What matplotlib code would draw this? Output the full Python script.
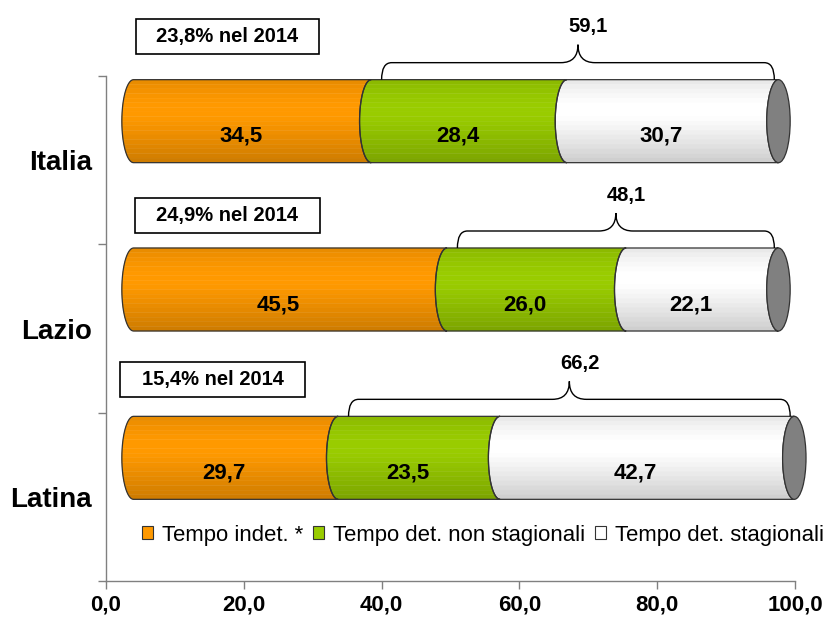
import numpy as np
import matplotlib
matplotlib.use("Agg")
import matplotlib.pyplot as plt
from matplotlib.patches import Polygon, Ellipse, Rectangle, Patch, PathPatch
from matplotlib.path import Path
from matplotlib.colors import to_rgb

plt.rcParams['font.family'] = ['Liberation Sans', 'DejaVu Sans']

# ---------------- data ----------------
categories = ["Italia", "Lazio", "Latina"]
tempo_indet = [34.5, 45.5, 29.7]
det_non_stag = [28.4, 26.0, 23.5]
det_stag = [30.7, 22.1, 42.7]
pct_2014 = [23.8, 24.9, 15.4]
series_labels = ["Tempo indet. *", "Tempo det. non stagionali", "Tempo det. stagionali"]
xticks = [0, 20, 40, 60, 80, 100]

# ---------------- style / layout ----------------
colors = ["#FF9900", "#99CC00", "#FFFFFF"]
W, H = 838, 619
ax_left_px, ax_right_px, ax_top_px, ax_bot_px = 106, 795, 76, 581
px_x = (ax_right_px - ax_left_px) / 100.0      # px per x unit
px_y = (ax_bot_px - ax_top_px) / 3.0           # px per y unit
depth_x = 4.0                 # 3D projection shift (x units)
depth_y = 39.0 / px_y         # 3D projection shift (y units)
ry = 41.5 / px_y              # bar half height
rx = 1.7                      # ellipse half width (x units)
box_x = [(4.35, 30.9), (4.2, 31.05), (2.05, 28.9)]
box_gap_px = [26, 15, 19]
box_h_px = 35
nbands = 18
band_prof = np.interp((np.arange(nbands) + 0.5) / nbands,
                      [0, .06, .18, .3, .45, .6, .8, 1.0],
                      [.90, .93, .97, 1.0, 1.0, .95, .88, .80])

fig = plt.figure(figsize=(W / 100, H / 100), dpi=100)
ax = fig.add_axes([ax_left_px / W, 1 - ax_bot_px / H,
                   (ax_right_px - ax_left_px) / W, (ax_bot_px - ax_top_px) / H])
ax.set_xlim(0, 100)
ax.set_ylim(0, 3)
ax.set_autoscale_on(False)


def fmt(v):
    return f"{v:.1f}".replace(".", ",")


def half_ellipse(cx, cy, start, stop, n=40):
    th = np.linspace(np.radians(start), np.radians(stop), n)
    return np.column_stack([cx + rx * np.cos(th), cy + ry * np.sin(th)])


def left_curve_x(c, yc, y):
    u = np.clip((y - yc) / ry, -1, 1)
    return c - rx * np.sqrt(1 - u ** 2)


for i, cat in enumerate(categories):
    yc = (2.5 - i) + depth_y
    vals = [tempo_indet[i], det_non_stag[i], det_stag[i]]
    starts = np.concatenate([[0], np.cumsum(vals)[:-1]]) + depth_x
    ends = np.cumsum(vals) + depth_x
    for j, (a, b) in enumerate(zip(starts, ends)):
        base = np.array(to_rgb(colors[j]))
        # shaded horizontal bands
        for k in range(nbands):
            yhi = yc + ry - 2 * ry * k / nbands
            ylo = yc + ry - 2 * ry * (k + 1) / nbands
            ys = np.linspace(yhi, ylo, 8)
            xr = left_curve_x(b, yc, ys)
            xl = left_curve_x(a, yc, ys[::-1])
            verts = np.vstack([np.column_stack([xr, ys]), np.column_stack([xl, ys[::-1]])])
            col = np.clip(base * band_prof[k], 0, 1)
            ax.add_patch(Polygon(verts, closed=True, facecolor=col, edgecolor=col, lw=0.3,
                                 zorder=3, clip_on=False))
        right = half_ellipse(b, yc, 90, 270)
        left = half_ellipse(a, yc, 90, 270)[::-1]
        verts = np.vstack([right, left])
        ax.add_patch(Polygon(verts, closed=True, facecolor="none",
                             edgecolor="#333333", lw=0.9, zorder=4, clip_on=False))
        ax.text((a + b) / 2 - rx, yc - 0.09, fmt(vals[j]), ha="center", va="center",
                fontsize=16, fontweight="bold", color="black", zorder=6)
    # right cap
    ax.add_patch(Ellipse((ends[-1], yc), 2 * rx, 2 * ry, facecolor="#808080",
                         edgecolor="#333333", lw=0.9, zorder=5, clip_on=False))

    # brace over the two fixed-term segments
    top = yc + ry
    L = starts[1] + 1.5
    R = ends[-1] - 0.6
    C = (L + R) / 2
    yb = top
    yh = top + 17 / px_y
    yt = top + 35 / px_y
    rc = 10 / px_x
    rt = 17 / px_x
    bverts = [(L, yb), (L, yh), (L + rc, yh), (C - rt, yh), (C, yh), (C, yt),
              (C, yh), (C + rt, yh), (R - rc, yh), (R, yh), (R, yb)]
    codes = [Path.MOVETO, Path.CURVE3, Path.CURVE3, Path.LINETO, Path.CURVE3, Path.CURVE3,
             Path.CURVE3, Path.CURVE3, Path.LINETO, Path.CURVE3, Path.CURVE3]
    ax.add_patch(PathPatch(Path(bverts, codes), facecolor="none", edgecolor="black",
                           lw=1.0, zorder=7, clip_on=False))
    ax.text(C + 1.5, top + 53 / px_y, fmt(det_non_stag[i] + det_stag[i]), ha="center",
            va="center", fontsize=14.5, fontweight="bold", zorder=7, clip_on=False)

    # 2014 box
    x0, x1 = box_x[i]
    yb0 = top + box_gap_px[i] / px_y
    hb = box_h_px / px_y
    ax.add_patch(Rectangle((x0, yb0), x1 - x0, hb, facecolor="white", edgecolor="black",
                           lw=1.2, zorder=7, clip_on=False))
    ax.text((x0 + x1) / 2, yb0 + hb / 2, f"{fmt(pct_2014[i])}% nel 2014", ha="center",
            va="center", fontsize=14.5, fontweight="bold", zorder=8, clip_on=False)

# axes styling
for s in ["top", "right"]:
    ax.spines[s].set_visible(False)
for s in ["left", "bottom"]:
    ax.spines[s].set_color("#808080")
    ax.spines[s].set_linewidth(1.0)

ax.set_xticks(xticks)
ax.set_xticklabels([fmt(v) for v in xticks], fontsize=16, fontweight="bold")
ax.tick_params(axis="x", direction="out", length=6, width=1.0, color="#808080", pad=4)

ax.set_yticks([0, 1, 2, 3])
ax.set_yticklabels([])
ax.tick_params(axis="y", which="major", direction="out", length=6, width=1.0, color="#808080")
ax.set_yticks([2.5 - k for k in range(len(categories))], minor=True)
ax.set_yticklabels(categories, minor=True, fontsize=20, fontweight="bold")
ax.tick_params(axis="y", which="minor", length=0, pad=10)

handles = [Patch(facecolor=c, edgecolor="#333333", lw=0.8) for c in colors]
ax.legend(handles, series_labels, ncol=3, loc="center left",
          bbox_to_anchor=(142 / W, 1 - 535 / H), bbox_transform=fig.transFigure,
          frameon=False, fontsize=15.9, handlelength=0.5, handleheight=0.5,
          handletextpad=0.4, columnspacing=0.45, borderpad=0, borderaxespad=0)

fig.savefig("out.png", dpi=100)
